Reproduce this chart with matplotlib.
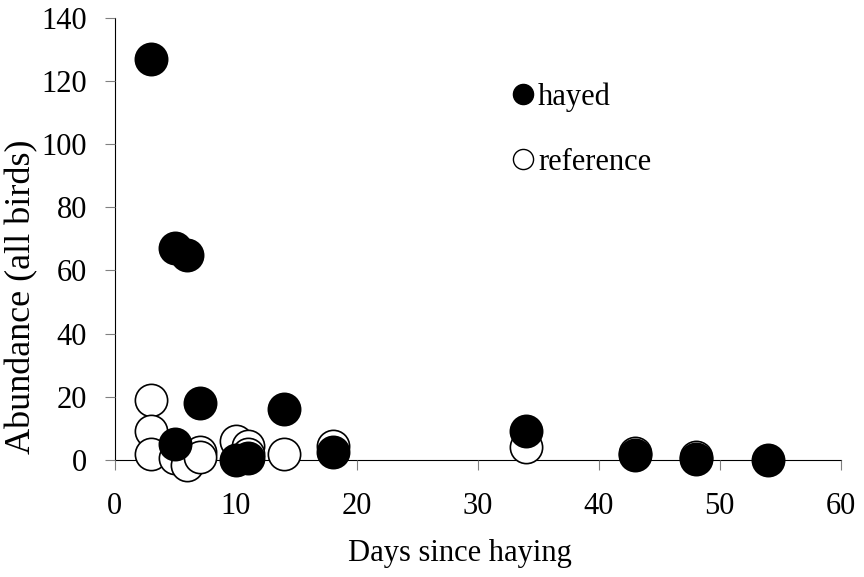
import matplotlib.pyplot as plt
from matplotlib.lines import Line2D

plt.rcParams['font.family'] = ['Liberation Serif', 'DejaVu Serif']

# days since haying / abundance
hayed_days = [3, 5, 6, 7, 5, 14, 10, 11, 18, 34, 43, 48, 54]
hayed_abund = [127, 67, 65, 18, 5, 16, 0, 0.5, 2.5, 9, 1.5, 0.3, 0]

ref_days = [3, 3, 3, 5, 6, 7, 7, 10, 11, 11, 14, 18, 34, 43, 48]
ref_abund = [19, 9, 2, 0.6, -1.5, 2.5, 1, 6, 4.5, 2, 2, 4.5, 4, 2.2, 1]

fig = plt.figure(figsize=(8.64, 5.77), dpi=100)
ax = fig.add_axes([0.133, 0.203, 0.84, 0.766])

ax.scatter(ref_days, ref_abund, s=540, facecolor='white', edgecolor='black',
           linewidth=1.2, clip_on=False, zorder=3)
ax.scatter(hayed_days, hayed_abund, s=540, facecolor='black', edgecolor='black',
           linewidth=1.2, clip_on=False, zorder=4)

ax.set_xlim(0, 60)
ax.set_ylim(0, 140)
ax.set_xticks(range(0, 61, 10))
ax.set_yticks(range(0, 141, 20))
ax.spines['top'].set_visible(False)
ax.spines['right'].set_visible(False)
ax.spines['left'].set_zorder(1)
ax.spines['bottom'].set_zorder(1)
ax.tick_params(axis='x', direction='out', length=7, labelsize=22, color='#808080', pad=16)
ax.tick_params(axis='y', direction='out', length=7, labelsize=22, color='#808080', pad=13)

# axis titles (not centred on the axes in the original)
fig.text(460 / 864, 1 - 553 / 577, 'Days since haying', fontsize=22,
         ha='center', va='center')
fig.text(22 / 864, 1 - 297 / 577, 'Abundance (all birds)', fontsize=26,
         ha='center', va='center', rotation=90)

handles = [
    Line2D([], [], marker='o', linestyle='none', markersize=14.5,
           markerfacecolor='black', markeredgecolor='black'),
    Line2D([], [], marker='o', linestyle='none', markersize=14.5,
           markerfacecolor='white', markeredgecolor='black', markeredgewidth=1.0),
]
fig.legend(handles, ['hayed', 'reference'], loc='upper left',
           bbox_to_anchor=(512 / 864, 1 - 82 / 577), frameon=False, fontsize=22,
           handletextpad=0.15, labelspacing=1.2, handlelength=0.7,
           borderpad=0, borderaxespad=0)

fig.savefig('out.png', dpi=100)
